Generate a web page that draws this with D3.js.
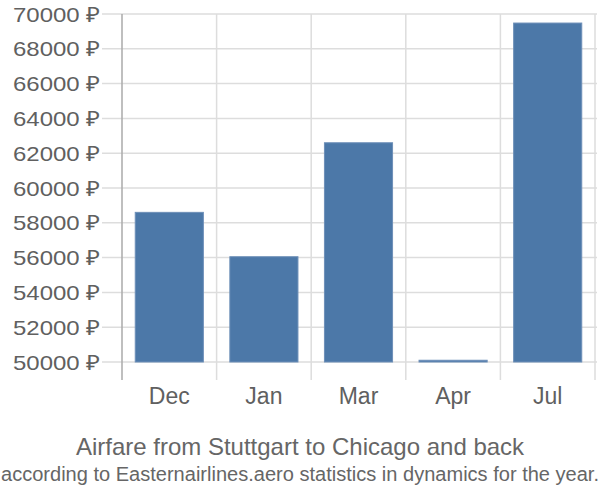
<!DOCTYPE html>
<html><head><meta charset="utf-8">
<script src="https://cdn.jsdelivr.net/npm/d3@7"></script>
<style>body{margin:0;background:#fff}svg{display:block;font-family:"Liberation Sans",Arial,sans-serif}</style>
</head><body><svg id="c" width="600" height="500"></svg>
<script>
const categories = ["Dec","Jan","Mar","Apr","Jul"];
const values = [58600, 56050, 62600, 50100, 69480];
const yTicks = [50000,52000,54000,56000,58000,60000,62000,64000,66000,68000,70000];
const title = "Airfare from Stuttgart to Chicago and back";
const subtitle = "according to Easternairlines.aero statistics in dynamics for the year.";

const svg = d3.select("#c");
const x = d3.scaleBand().domain(categories).range([122, 595]).paddingInner(0.28).paddingOuter(0.14);
const xb = d3.scaleBand().domain(categories).range([122, 595]);
const y = d3.scaleLinear().domain([50000, 70000]).range([362, 14]);

// horizontal grid
svg.append("g").selectAll("line").data(yTicks).join("line")
  .attr("x1", 102).attr("x2", 597)
  .attr("y1", d => y(d)).attr("y2", d => y(d))
  .attr("stroke", "#dddddd").attr("stroke-width", 1.5);
// vertical separators
const seps = categories.slice(1).map(c => xb(c)).concat([xb.range()[1]]);
svg.append("g").selectAll("line").data(seps).join("line")
  .attr("x1", d => d).attr("x2", d => d)
  .attr("y1", 14).attr("y2", 380)
  .attr("stroke", "#dddddd").attr("stroke-width", 1.5);
// axis line
svg.append("line").attr("x1", 122).attr("x2", 122).attr("y1", 14).attr("y2", 380)
  .attr("stroke", "#aaaaaa").attr("stroke-width", 1.5);

// bars
svg.append("g").selectAll("rect").data(values).join("rect")
  .attr("x", (d, i) => x(categories[i]))
  .attr("width", x.bandwidth())
  .attr("y", d => y(d))
  .attr("height", d => y(50000) - y(d))
  .attr("fill", "#4c78a8").attr("stroke", "#6d8fb8").attr("stroke-width", 1);

// y labels
svg.append("g").selectAll("text").data(yTicks).join("text")
  .attr("x", 100).attr("y", d => y(d)).attr("dy", "0.36em")
  .attr("text-anchor", "end").attr("fill", "#606060").attr("font-size", 21)
  .attr("textLength", 87).attr("lengthAdjust", "spacingAndGlyphs")
  .text(d => d + " ₽");
// x labels
svg.append("g").selectAll("text").data(categories).join("text")
  .attr("x", d => xb(d) + xb.bandwidth() / 2).attr("y", 396).attr("dy", "0.36em")
  .attr("text-anchor", "middle").attr("fill", "#606060").attr("font-size", 23)
  .text(d => d);

svg.append("text").attr("x", 300).attr("y", 446).attr("dy", "0.36em")
  .attr("text-anchor", "middle").attr("fill", "#666").attr("font-size", 24).text(title);
svg.append("text").attr("x", 300).attr("y", 474).attr("dy", "0.36em")
  .attr("text-anchor", "middle").attr("fill", "#666").attr("font-size", 20)
  .attr("textLength", 598).attr("lengthAdjust", "spacingAndGlyphs").text(subtitle);
</script></body></html>
